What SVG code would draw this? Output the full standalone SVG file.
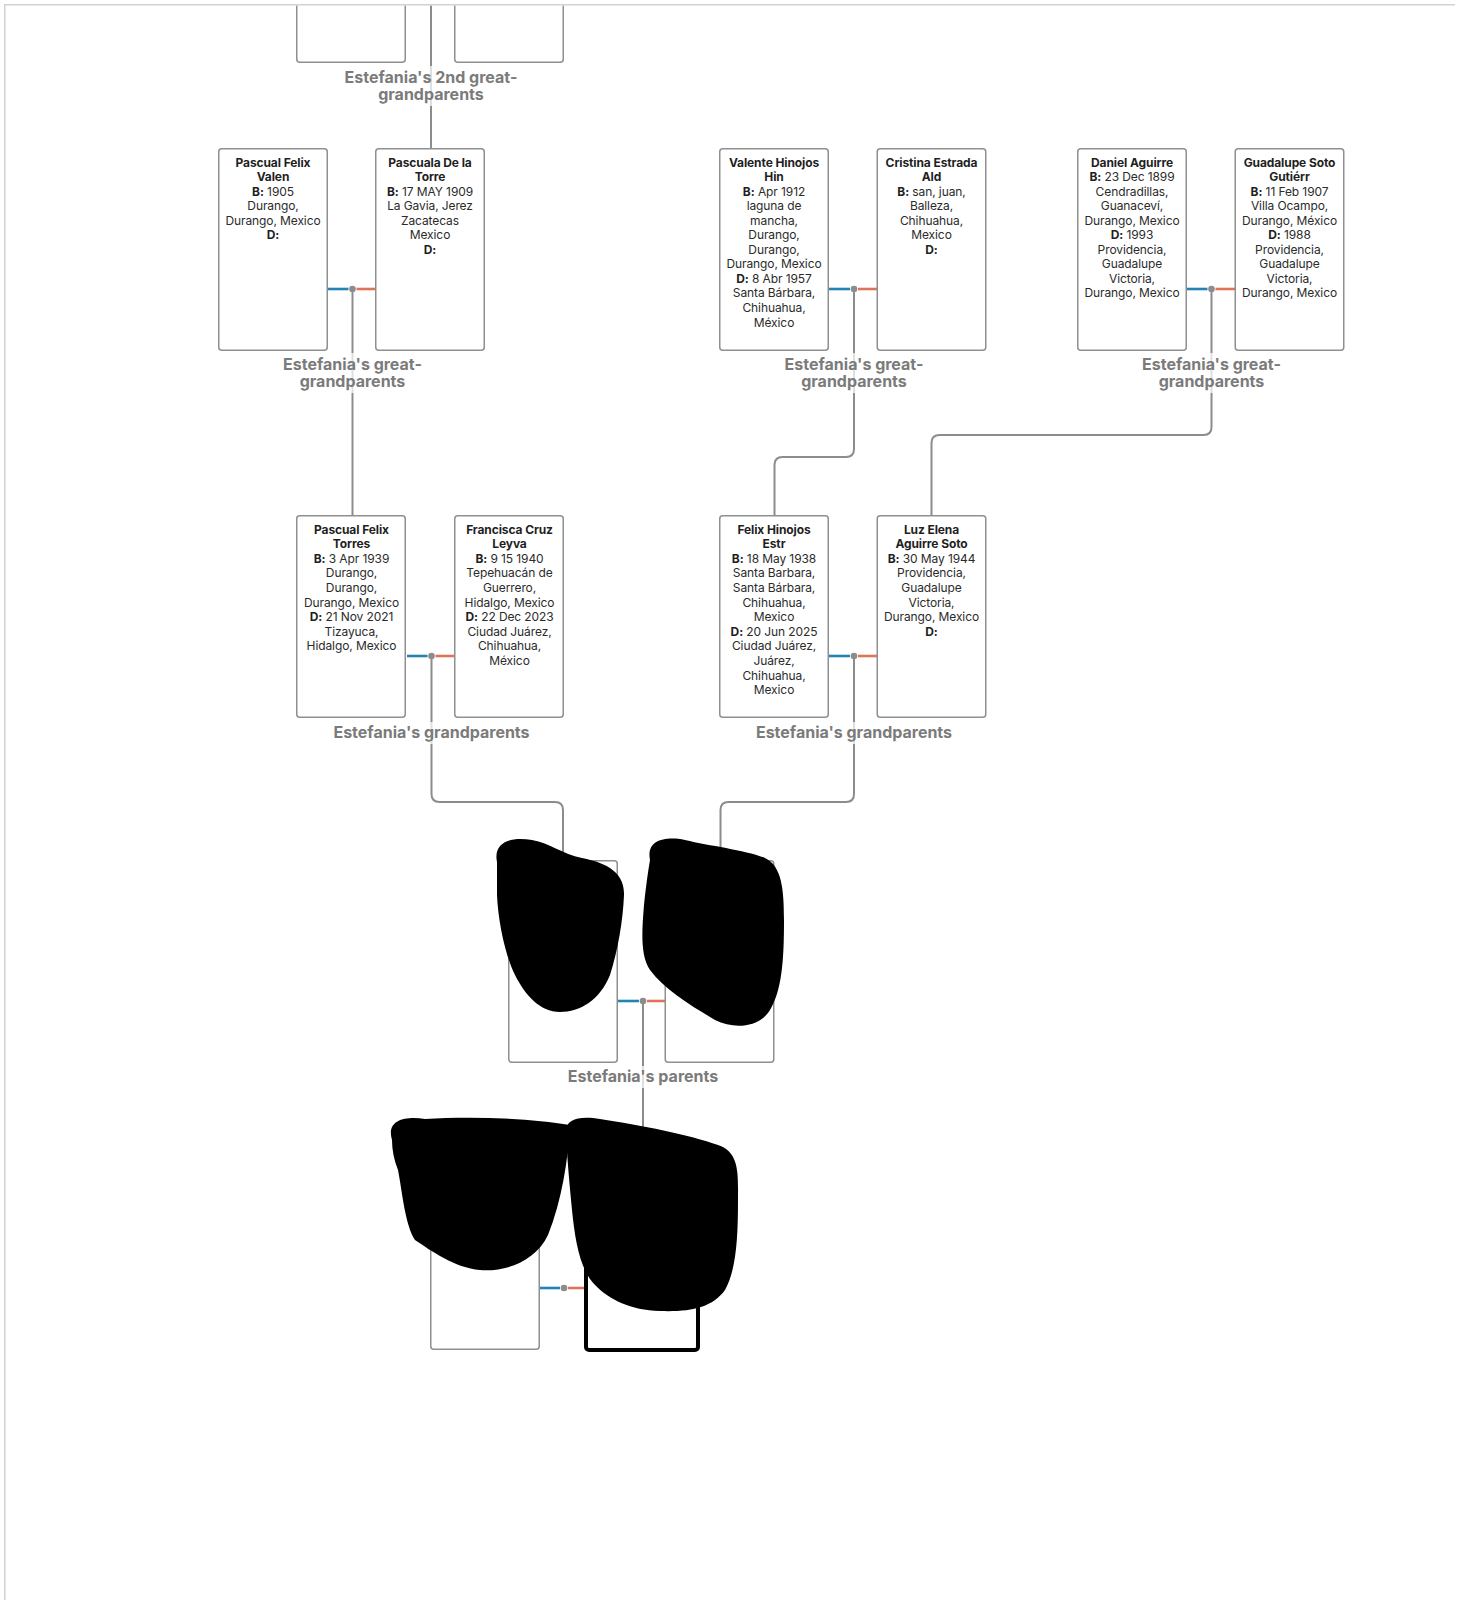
<svg xmlns="http://www.w3.org/2000/svg" width="1464" height="1600" viewBox="0 0 1464 1600">
<defs>
<style>
.box{fill:#fff;stroke:#8f8f8f;stroke-width:1.5}
.me{fill:#fff;stroke:#000;stroke-width:4}
.nm{font-family:Inter,"Liberation Sans",sans-serif;font-size:12px;font-weight:700;fill:#1f1f1f;letter-spacing:-0.1px}
.tx{font-family:Inter,"Liberation Sans",sans-serif;font-size:12px;font-weight:400;fill:#2b2b2b;letter-spacing:-0.1px}
.bd{font-weight:700;fill:#1f1f1f}
.lb{font-family:Inter,"Liberation Sans",sans-serif;font-size:16px;font-weight:700;fill:#7b7b7b}
.halo{fill:#fff;fill-opacity:0.72}
.con{fill:none;stroke:#8c8c8c;stroke-width:2}
.m{stroke:#2384b4;stroke-width:2.6}
.f{stroke:#dd7359;stroke-width:2.6}
.dot{fill:#8c8c8c}
.blob{fill:#000}
</style>
<clipPath id="frame"><rect x="5.5" y="5.5" width="1458" height="1595"/></clipPath>
</defs>
<rect width="1464" height="1600" fill="#fff"/>
<g clip-path="url(#frame)">
<g id="connectors">
<path class="con" d="M431,0 V148"/>
<path class="con" d="M352.5,289 V515"/>
<path class="con" d="M854,289 V449 Q854,457 846,457 H782.5 Q774.5,457 774.5,465 V515"/>
<path class="con" d="M1211.5,289 V427 Q1211.5,435 1203.5,435 H939.5 Q931.5,435 931.5,443 V515"/>
<path class="con" d="M431.5,656 V794 Q431.5,802 439.5,802 H555 Q563,802 563,810 V860"/>
<path class="con" d="M854,656 V794 Q854,802 846,802 H728.5 Q720.5,802 720.5,810 V860"/>
<path class="con" d="M643,1001 V1146"/>
</g>
<g id="couple-top"><rect class="box" x="296.75" y="-139.25" width="108.5" height="201.5" rx="3"/><rect class="box" x="454.75" y="-139.25" width="108.5" height="201.5" rx="3"/></g>

<g id="gg1-couple">
<line class="m" x1="328" y1="289" x2="348.5" y2="289"/><line class="f" x1="356.5" y1="289" x2="375" y2="289"/><circle class="dot" cx="352.5" cy="289" r="3.3"/>
</g>
<g id="gg2-couple">
<line class="m" x1="829" y1="289" x2="850" y2="289"/><line class="f" x1="858" y1="289" x2="877" y2="289"/><circle class="dot" cx="854" cy="289" r="3.3"/>
</g>
<g id="gg3-couple">
<line class="m" x1="1187" y1="289" x2="1207.5" y2="289"/><line class="f" x1="1215.5" y1="289" x2="1235" y2="289"/><circle class="dot" cx="1211.5" cy="289" r="3.3"/>
</g>
<g id="gp1-couple">
<line class="m" x1="407" y1="656" x2="427.5" y2="656"/><line class="f" x1="435.5" y1="656" x2="455" y2="656"/><circle class="dot" cx="431.5" cy="656" r="3.3"/>
</g>
<g id="gp2-couple">
<line class="m" x1="829" y1="656" x2="850" y2="656"/><line class="f" x1="858" y1="656" x2="877" y2="656"/><circle class="dot" cx="854" cy="656" r="3.3"/>
</g>
<g id="p-couple">
<line class="m" x1="618" y1="1001" x2="639" y2="1001"/><line class="f" x1="647" y1="1001" x2="665" y2="1001"/><circle class="dot" cx="643" cy="1001" r="3.3"/>
</g>
<g id="e-couple">
<line class="m" x1="539" y1="1288" x2="560" y2="1288"/><line class="f" x1="568" y1="1288" x2="585" y2="1288"/><circle class="dot" cx="564" cy="1288" r="3.3"/>
</g>

<g id="label-2ggp"><rect class="halo" x="338" y="66" width="186" height="40"/><text class="lb" text-anchor="middle"><tspan x="431" y="83">Estefania's 2nd great-</tspan><tspan x="431" y="100">grandparents</tspan></text></g>

<g id="pascual-felix-valen">
<rect class="box" x="218.75" y="148.75" width="108.5" height="201.5" rx="3"/>
<text text-anchor="middle"><tspan class="nm" x="273" y="166.5">Pascual Felix</tspan><tspan class="nm" x="273" y="181.05">Valen</tspan><tspan class="tx" x="273" y="195.6"><tspan class="bd">B:</tspan> 1905</tspan><tspan class="tx" x="273" y="210.15">Durango,</tspan><tspan class="tx" x="273" y="224.7">Durango, Mexico</tspan><tspan class="nm" x="273" y="239.25">D:</tspan></text>
</g>
<g id="pascuala-de-la-torre">
<rect class="box" x="375.75" y="148.75" width="108.5" height="201.5" rx="3"/>
<text text-anchor="middle"><tspan class="nm" x="430" y="166.5">Pascuala De la</tspan><tspan class="nm" x="430" y="181.05">Torre</tspan><tspan class="tx" x="430" y="195.6"><tspan class="bd">B:</tspan> 17 MAY 1909</tspan><tspan class="tx" x="430" y="210.15">La Gavia, Jerez</tspan><tspan class="tx" x="430" y="224.7">Zacatecas</tspan><tspan class="tx" x="430" y="239.25">Mexico</tspan><tspan class="nm" x="430" y="253.8">D:</tspan></text>
</g>
<g id="valente-hinojos">
<rect class="box" x="719.75" y="148.75" width="108.5" height="201.5" rx="3"/>
<text text-anchor="middle"><tspan class="nm" x="774" y="166.5">Valente Hinojos</tspan><tspan class="nm" x="774" y="181.05">Hin</tspan><tspan class="tx" x="774" y="195.6"><tspan class="bd">B:</tspan> Apr 1912</tspan><tspan class="tx" x="774" y="210.15">laguna de</tspan><tspan class="tx" x="774" y="224.7">mancha,</tspan><tspan class="tx" x="774" y="239.25">Durango,</tspan><tspan class="tx" x="774" y="253.8">Durango,</tspan><tspan class="tx" x="774" y="268.35">Durango, Mexico</tspan><tspan class="tx" x="774" y="282.9"><tspan class="bd">D:</tspan> 8 Abr 1957</tspan><tspan class="tx" x="774" y="297.45">Santa Bárbara,</tspan><tspan class="tx" x="774" y="312">Chihuahua,</tspan><tspan class="tx" x="774" y="326.55">México</tspan></text>
</g>
<g id="cristina-estrada">
<rect class="box" x="877.25" y="148.75" width="108.5" height="201.5" rx="3"/>
<text text-anchor="middle"><tspan class="nm" x="931.5" y="166.5">Cristina Estrada</tspan><tspan class="nm" x="931.5" y="181.05">Ald</tspan><tspan class="tx" x="931.5" y="195.6"><tspan class="bd">B:</tspan> san, juan,</tspan><tspan class="tx" x="931.5" y="210.15">Balleza,</tspan><tspan class="tx" x="931.5" y="224.7">Chihuahua,</tspan><tspan class="tx" x="931.5" y="239.25">Mexico</tspan><tspan class="nm" x="931.5" y="253.8">D:</tspan></text>
</g>
<g id="daniel-aguirre">
<rect class="box" x="1077.75" y="148.75" width="108.5" height="201.5" rx="3"/>
<text text-anchor="middle"><tspan class="nm" x="1132" y="166.5">Daniel Aguirre</tspan><tspan class="tx" x="1132" y="181.05"><tspan class="bd">B:</tspan> 23 Dec 1899</tspan><tspan class="tx" x="1132" y="195.6">Cendradillas,</tspan><tspan class="tx" x="1132" y="210.15">Guanaceví,</tspan><tspan class="tx" x="1132" y="224.7">Durango, Mexico</tspan><tspan class="tx" x="1132" y="239.25"><tspan class="bd">D:</tspan> 1993</tspan><tspan class="tx" x="1132" y="253.8">Providencia,</tspan><tspan class="tx" x="1132" y="268.35">Guadalupe</tspan><tspan class="tx" x="1132" y="282.9">Victoria,</tspan><tspan class="tx" x="1132" y="297.45">Durango, Mexico</tspan></text>
</g>
<g id="guadalupe-soto">
<rect class="box" x="1235.25" y="148.75" width="108.5" height="201.5" rx="3"/>
<text text-anchor="middle"><tspan class="nm" x="1289.5" y="166.5">Guadalupe Soto</tspan><tspan class="nm" x="1289.5" y="181.05">Gutiérr</tspan><tspan class="tx" x="1289.5" y="195.6"><tspan class="bd">B:</tspan> 11 Feb 1907</tspan><tspan class="tx" x="1289.5" y="210.15">Villa Ocampo,</tspan><tspan class="tx" x="1289.5" y="224.7">Durango, México</tspan><tspan class="tx" x="1289.5" y="239.25"><tspan class="bd">D:</tspan> 1988</tspan><tspan class="tx" x="1289.5" y="253.8">Providencia,</tspan><tspan class="tx" x="1289.5" y="268.35">Guadalupe</tspan><tspan class="tx" x="1289.5" y="282.9">Victoria,</tspan><tspan class="tx" x="1289.5" y="297.45">Durango, Mexico</tspan></text>
</g>

<g id="label-gg1"><rect class="halo" x="276" y="353" width="153" height="40"/><text class="lb" text-anchor="middle"><tspan x="352.5" y="370">Estefania's great-</tspan><tspan x="352.5" y="387">grandparents</tspan></text></g>
<g id="label-gg2"><rect class="halo" x="778" y="353" width="153" height="40"/><text class="lb" text-anchor="middle"><tspan x="854" y="370">Estefania's great-</tspan><tspan x="854" y="387">grandparents</tspan></text></g>
<g id="label-gg3"><rect class="halo" x="1135" y="353" width="153" height="40"/><text class="lb" text-anchor="middle"><tspan x="1211.5" y="370">Estefania's great-</tspan><tspan x="1211.5" y="387">grandparents</tspan></text></g>

<g id="pascual-felix-torres">
<rect class="box" x="296.75" y="515.75" width="108.5" height="201.5" rx="3"/>
<text text-anchor="middle"><tspan class="nm" x="351.5" y="533.5">Pascual Felix</tspan><tspan class="nm" x="351.5" y="548.1">Torres</tspan><tspan class="tx" x="351.5" y="562.7"><tspan class="bd">B:</tspan> 3 Apr 1939</tspan><tspan class="tx" x="351.5" y="577.3">Durango,</tspan><tspan class="tx" x="351.5" y="591.9">Durango,</tspan><tspan class="tx" x="351.5" y="606.5">Durango, Mexico</tspan><tspan class="tx" x="351.5" y="621.1"><tspan class="bd">D:</tspan> 21 Nov 2021</tspan><tspan class="tx" x="351.5" y="635.7">Tizayuca,</tspan><tspan class="tx" x="351.5" y="650.3">Hidalgo, Mexico</tspan></text>
</g>
<g id="francisca-cruz">
<rect class="box" x="454.75" y="515.75" width="108.5" height="201.5" rx="3"/>
<text text-anchor="middle"><tspan class="nm" x="509.5" y="533.5">Francisca Cruz</tspan><tspan class="nm" x="509.5" y="548.1">Leyva</tspan><tspan class="tx" x="509.5" y="562.7"><tspan class="bd">B:</tspan> 9 15 1940</tspan><tspan class="tx" x="509.5" y="577.3">Tepehuacán de</tspan><tspan class="tx" x="509.5" y="591.9">Guerrero,</tspan><tspan class="tx" x="509.5" y="606.5">Hidalgo, Mexico</tspan><tspan class="tx" x="509.5" y="621.1"><tspan class="bd">D:</tspan> 22 Dec 2023</tspan><tspan class="tx" x="509.5" y="635.7">Ciudad Juárez,</tspan><tspan class="tx" x="509.5" y="650.3">Chihuahua,</tspan><tspan class="tx" x="509.5" y="664.9">México</tspan></text>
</g>
<g id="felix-hinojos">
<rect class="box" x="719.75" y="515.75" width="108.5" height="201.5" rx="3"/>
<text text-anchor="middle"><tspan class="nm" x="774" y="533.5">Felix Hinojos</tspan><tspan class="nm" x="774" y="548.1">Estr</tspan><tspan class="tx" x="774" y="562.7"><tspan class="bd">B:</tspan> 18 May 1938</tspan><tspan class="tx" x="774" y="577.3">Santa Barbara,</tspan><tspan class="tx" x="774" y="591.9">Santa Bárbara,</tspan><tspan class="tx" x="774" y="606.5">Chihuahua,</tspan><tspan class="tx" x="774" y="621.1">Mexico</tspan><tspan class="tx" x="774" y="635.7"><tspan class="bd">D:</tspan> 20 Jun 2025</tspan><tspan class="tx" x="774" y="650.3">Ciudad Juárez,</tspan><tspan class="tx" x="774" y="664.9">Juárez,</tspan><tspan class="tx" x="774" y="679.5">Chihuahua,</tspan><tspan class="tx" x="774" y="694.1">Mexico</tspan></text>
</g>
<g id="luz-elena-aguirre">
<rect class="box" x="877.25" y="515.75" width="108.5" height="201.5" rx="3"/>
<text text-anchor="middle"><tspan class="nm" x="931.5" y="533.5">Luz Elena</tspan><tspan class="nm" x="931.5" y="548.1">Aguirre Soto</tspan><tspan class="tx" x="931.5" y="562.7"><tspan class="bd">B:</tspan> 30 May 1944</tspan><tspan class="tx" x="931.5" y="577.3">Providencia,</tspan><tspan class="tx" x="931.5" y="591.9">Guadalupe</tspan><tspan class="tx" x="931.5" y="606.5">Victoria,</tspan><tspan class="tx" x="931.5" y="621.1">Durango, Mexico</tspan><tspan class="nm" x="931.5" y="635.7">D:</tspan></text>
</g>

<g id="label-gp1"><rect class="halo" x="326" y="722" width="211" height="22"/><text class="lb" text-anchor="middle" x="431.5" y="737.5">Estefania's grandparents</text></g>
<g id="label-gp2"><rect class="halo" x="748" y="722" width="211" height="22"/><text class="lb" text-anchor="middle" x="854" y="737.5">Estefania's grandparents</text></g>

<g id="parent-1"><rect class="box" x="508.75" y="860.75" width="108.5" height="201.5" rx="3"/></g>
<g id="parent-2"><rect class="box" x="665.25" y="860.75" width="108.5" height="201.5" rx="3"/></g>
<g id="label-parents"><rect class="halo" x="563" y="1066" width="160" height="22"/><text class="lb" text-anchor="middle" x="643" y="1082">Estefania's parents</text></g>

<g id="spouse"><rect class="box" x="430.75" y="1147.75" width="108.5" height="201.5" rx="3"/></g>
<g id="estefania"><rect class="me" x="586" y="1148" width="112" height="202" rx="3"/></g>

<g id="redactions">
<path class="blob" d="M497,862 C493,843 510,836 532,840 C550,843 562,854 582,858 C602,862 625,870 624,895 C623,920 618,950 610,975 C600,1000 580,1012 560,1012 C540,1012 525,995 515,975 C505,955 498,920 497,895 Z"/>
<path class="blob" d="M650,860 C646,840 665,836 685,840 C710,846 745,850 765,858 C782,866 784,890 784,920 C784,960 782,990 770,1010 C760,1027 735,1030 715,1020 C690,1005 665,990 650,970 C640,955 642,930 644,905 C646,885 648,872 650,860 Z"/>
<path class="blob" d="M392,1140 C386,1120 405,1116 425,1119 C470,1116 530,1118 570,1125 C568,1160 562,1200 548,1235 C535,1262 505,1272 480,1270 C455,1268 430,1250 415,1240 C405,1225 402,1190 398,1170 C394,1160 392,1150 392,1140 Z"/>
<path class="blob" d="M566,1135 C564,1118 580,1116 600,1119 C640,1125 690,1135 718,1145 C740,1152 738,1175 738,1200 C738,1240 736,1270 725,1290 C712,1308 690,1312 660,1311 C630,1310 610,1300 595,1285 C580,1270 575,1240 572,1210 C569,1180 567,1155 566,1135 Z"/>
</g>
</g>
<g id="frame-lines">
<line x1="4.75" y1="4.75" x2="1455" y2="4.75" stroke="#d2d2d2" stroke-width="1.5"/>
<line x1="4.75" y1="4" x2="4.75" y2="1600" stroke="#d2d2d2" stroke-width="1.5"/>
</g>
</svg>
